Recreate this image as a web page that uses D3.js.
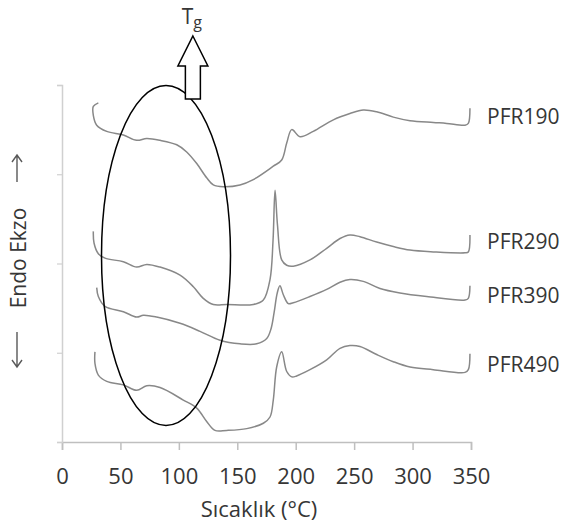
<!DOCTYPE html>
<html>
<head>
<meta charset="utf-8">
<script src="https://cdn.jsdelivr.net/npm/d3@7"></script>
<style>
  body { margin: 0; background: #fff; }
  text { font-family: "Open Sans", sans-serif; fill: #363636; }
</style>
</head>
<body>
<div id="chart-area"></div>
<script>
// DSC curves: [temperature (°C), shifted heat flow]
const pfr190 = [[31.1,3.80],[26.8,3.76],[26.8,3.66],[29.7,3.55],[38.3,3.48],[52.5,3.44],[63.9,3.38],[72.5,3.40],[83.9,3.38],[98.2,3.33],[106.7,3.25],[115.3,3.12],[123.8,2.96],[129.5,2.88],[138.0,2.86],[152.3,2.88],[163.7,2.94],[180.8,3.09],[188.0,3.16],[192.3,3.35],[196.6,3.50],[203.7,3.42],[215.0,3.48],[232.2,3.61],[246.4,3.68],[257.8,3.72],[269.3,3.70],[283.5,3.64],[297.8,3.60],[317.7,3.58],[329.2,3.57],[344.9,3.55],[347.7,3.57],[349.1,3.74]]
const pfr290 = [[26.8,2.36],[27.4,2.23],[31.1,2.11],[36.8,2.06],[52.5,2.02],[63.9,1.96],[72.5,1.99],[83.9,1.96],[101.0,1.87],[112.4,1.74],[120.9,1.61],[129.5,1.54],[140.9,1.54],[163.7,1.54],[172.3,1.59],[178.0,1.82],[180.6,2.26],[182.3,2.82],[184.4,2.43],[188.0,2.04],[192.3,1.98],[197.9,1.97],[212.2,2.04],[226.5,2.17],[237.9,2.28],[246.4,2.32],[255.0,2.30],[269.3,2.24],[283.5,2.19],[297.8,2.15],[317.7,2.13],[344.9,2.12],[347.7,2.13],[349.1,2.32]]
const pfr390 = [[29.7,1.73],[31.1,1.63],[36.8,1.52],[52.5,1.46],[63.9,1.40],[69.6,1.42],[81.0,1.40],[101.0,1.33],[118.1,1.24],[135.2,1.14],[152.3,1.10],[166.6,1.10],[175.2,1.16],[178.9,1.27],[181.5,1.45],[184.2,1.67],[186.5,1.75],[189.4,1.65],[193.7,1.55],[197.9,1.56],[212.2,1.63],[226.5,1.71],[237.9,1.79],[246.4,1.82],[257.8,1.80],[272.1,1.72],[289.2,1.67],[312.1,1.63],[344.9,1.59],[347.7,1.61],[349.1,1.75]]
const pfr490 = [[28.2,1.01],[28.2,0.88],[31.1,0.75],[38.3,0.68],[52.5,0.64],[63.9,0.58],[72.5,0.63],[83.9,0.61],[103.8,0.47],[115.3,0.38],[123.8,0.23],[130.9,0.13],[140.9,0.13],[158.1,0.15],[172.3,0.21],[178.0,0.28],[180.8,0.47],[183.7,0.84],[188.0,1.01],[192.3,0.79],[196.6,0.73],[200.8,0.74],[212.2,0.81],[226.5,0.92],[237.9,1.05],[246.4,1.08],[255.0,1.07],[269.3,0.98],[283.5,0.90],[297.8,0.84],[317.7,0.81],[344.9,0.78],[347.7,0.81],[349.1,0.99]]

const seriesNames = ['PFR190', 'PFR290', 'PFR390', 'PFR490']
const labelLevels = [3.64, 2.24, 1.64, 0.87]   // where each name sits on the y scale
const xTicks = [0, 50, 100, 150, 200, 250, 300, 350]
const yTicks = [0, 1, 2, 3, 4]

// Tg marker: ellipse around the glass transition region, arrow above it
const tgCenter = [89, 2.09]
const tgArrowAt = 112

const margin = { left: 62, top: 85, right: 95, bottom: 86 }
const width = 566 - margin.left - margin.right,
  height = 528 - margin.top - margin.bottom

let svg = d3.select('#chart-area')
  .append('svg')
  .attr('width', 566)
  .attr('height', 528)

let g = svg.append('g')
  .attr('transform', 'translate(' + margin.left + ',' + margin.top + ')')

let x = d3.scaleLinear()
  .domain([0, 350])
  .range([0, width])

let y = d3.scaleLinear()
  .domain([0, 4])
  .range([height, 0])

// axes
let xAxisGroup = g.append('g')
  .attr('transform', 'translate(0,' + height + ')')
  .call(d3.axisBottom(x).tickValues(xTicks).tickSize(8).tickPadding(18).tickFormat(d3.format('d')))
xAxisGroup.select('.domain').attr('stroke', '#bfbfbf').attr('stroke-width', 1.5)
xAxisGroup.selectAll('.tick line').attr('stroke', '#bfbfbf').attr('stroke-width', 1.5)
xAxisGroup.selectAll('.tick text')
  .attr('font-family', '"Open Sans", sans-serif')
  .attr('font-size', 22)
  .attr('fill', '#363636')

let yAxisGroup = g.append('g')
  .call(d3.axisLeft(y).tickValues(yTicks).tickSize(5).tickFormat(''))
yAxisGroup.select('.domain').attr('stroke', '#d0d0d0').attr('stroke-width', 1.5)
yAxisGroup.selectAll('.tick line').attr('stroke', '#d0d0d0').attr('stroke-width', 1.2)

// axis titles
g.append('text')
  .attr('x', x(168.6))
  .attr('y', height + 75)
  .attr('text-anchor', 'middle')
  .attr('font-size', 22)
  .text('Sıcaklık (°C)')

svg.append('text')
  .attr('transform', 'rotate(-90)')
  .attr('x', -258)
  .attr('y', 26)
  .attr('text-anchor', 'middle')
  .attr('font-size', 21)
  .text('Endo Ekzo')

// the two little direction arrows beside the y title
const arrowPaths = ['M17,182 V155 M12,162 L17,155 L22,162', 'M17,332 V367 M12,360 L17,367 L22,360']
arrowPaths.forEach(p => {
  svg.append('path')
    .attr('d', p)
    .attr('fill', 'none')
    .attr('stroke', '#595959')
    .attr('stroke-width', 1.4)
})

// curves
let line = d3.line()
  .x(d => x(d[0]))
  .y(d => y(d[1]))
  .curve(d3.curveCatmullRom.alpha(0.5))

g.selectAll('path.curve')
  .data([pfr190, pfr290, pfr390, pfr490])
  .enter()
  .append('path')
  .attr('class', 'curve')
  .attr('d', line)
  .attr('fill', 'none')
  .attr('stroke', '#888')
  .attr('stroke-width', 1.5)

seriesNames.forEach((name, i) => {
  g.append('text')
    .attr('x', x(350) + 16)
    .attr('y', y(labelLevels[i]))
    .attr('dy', '0.35em')
    .attr('font-size', 21)
    .text(name)
})

// Tg annotation
g.append('ellipse')
  .attr('cx', x(tgCenter[0]))
  .attr('cy', y(tgCenter[1]))
  .attr('rx', 64.5)
  .attr('ry', 170)
  .attr('fill', 'none')
  .attr('stroke', '#000')
  .attr('stroke-width', 1.5)

let ax = x(tgArrowAt)
g.append('path')
  .attr('d', 'M' + ax + ',-49 L' + (ax + 15) + ',-19 L' + (ax + 7.5) + ',-19 L' + (ax + 7.5) + ',14'
    + ' L' + (ax - 7.5) + ',14 L' + (ax - 7.5) + ',-19 L' + (ax - 15) + ',-19 Z')
  .attr('fill', '#fff')
  .attr('stroke', '#000')
  .attr('stroke-width', 1.5)

let tg = g.append('text')
  .attr('x', ax - 1)
  .attr('y', -61)
  .attr('text-anchor', 'middle')
  .attr('font-size', 21)
tg.append('tspan').text('T')
tg.append('tspan').attr('dy', 4).attr('font-size', 16).text('g')
</script>
</body>
</html>
